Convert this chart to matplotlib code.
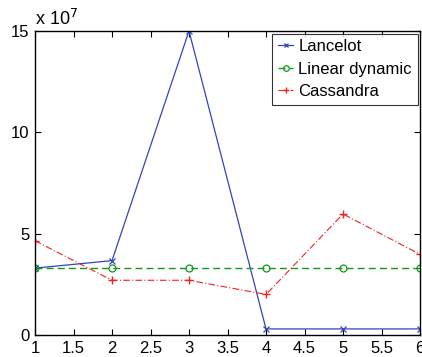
import matplotlib
matplotlib.use("Agg")
import matplotlib.pyplot as plt
import numpy as np

plt.rcParams['font.family'] = ['Liberation Sans', 'DejaVu Sans']

x = [1, 2, 3, 4, 5, 6]
lancelot = [3.3, 3.67, 15.0, 0.3, 0.3, 0.3]
linear_dynamic = [3.3, 3.3, 3.3, 3.3, 3.3, 3.3]
cassandra = [4.65, 2.7, 2.7, 2.0, 5.97, 3.98]
series_names = ["Lancelot", "Linear dynamic", "Cassandra"]
xticks = [1, 1.5, 2, 2.5, 3, 3.5, 4, 4.5, 5, 5.5, 6]
xticklabels = ["1", "1.5", "2", "2.5", "3", "3.5", "4", "4.5", "5", "5.5", "6"]
yticks = [0, 5, 10, 15]

fig = plt.figure(figsize=(4.22, 3.57), dpi=100)
ax = fig.add_axes([35/422, 22/357, 385/422, 304/357])

ax.plot(x, lancelot, color='#3344bb', linestyle='-', linewidth=0.9,
        marker='x', markersize=4, markeredgewidth=0.9, label=series_names[0])
ax.plot(x, linear_dynamic, color='#11991a', linestyle=(0, (5, 3)), linewidth=1.0,
        marker='o', markersize=5, markerfacecolor='none', markeredgewidth=0.9,
        label=series_names[1])
ax.plot(x, cassandra, color='#ee2222', linestyle=(0, (6, 2, 1, 2)), linewidth=0.8,
        marker='+', markersize=6, markeredgewidth=1.0, label=series_names[2])

ax.set_xlim(1, 6)
ax.set_ylim(0, 15)
ax.set_xticks(xticks)
ax.set_xticklabels(xticklabels)
ax.set_yticks(yticks)
ax.tick_params(direction='in', top=True, right=True, labelsize=12, length=4,
               width=0.8, pad=4)
for s in ax.spines.values():
    s.set_linewidth(1.0)

ax.text(0.0, 1.008, r"x 10$^7$", transform=ax.transAxes, fontsize=13,
        ha='left', va='bottom')

leg = ax.legend(loc='upper right', fontsize=12, frameon=True, fancybox=False,
                edgecolor='black', handlelength=0.9, handletextpad=0.3,
                borderpad=0.35, labelspacing=0.45, borderaxespad=0.15,
                markerscale=0.8)
leg.get_frame().set_linewidth(0.8)

fig.savefig("out.png", dpi=100)
